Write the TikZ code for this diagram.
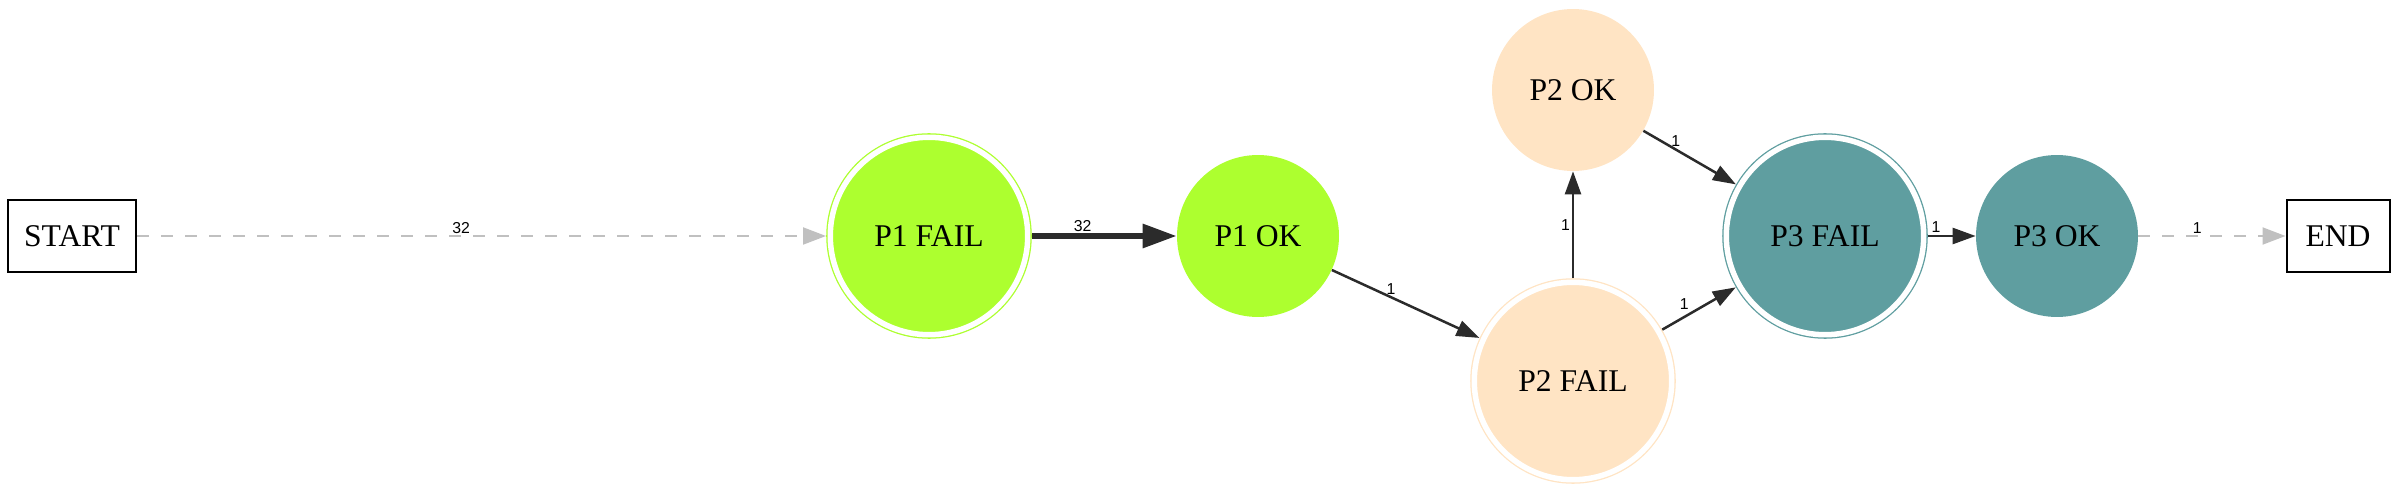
\documentclass[tikz,border=0pt]{standalone}
\usepackage{fontspec}
\setmainfont{Liberation Serif}
\newfontfamily\edgefont{Liberation Sans}
\usepackage{tikz}
\usetikzlibrary{arrows.meta}
\usetikzlibrary{calc}
\usetikzlibrary{positioning}

\definecolor{pgreen}{HTML}{ADFF2F}
\definecolor{pbisque}{HTML}{FFE4C4}
\definecolor{pcadet}{HTML}{5F9EA0}
\definecolor{edgedark}{HTML}{2B2B2B}
\definecolor{edgegray}{HTML}{C0C0C0}

\begin{document}
\begin{tikzpicture}[x=0.02cm, y=-0.02cm,
    statefont/.style={font=\fontsize{18}{22}\selectfont},
    okstate/.style={circle, fill=#1, minimum size=3.24cm, inner sep=0pt, statefont},
    failstate/.style={circle, fill=#1, draw=#1, line width=0.026cm, double=white,
        double distance=0.11cm, minimum size=3.95cm, inner sep=0pt, outer sep=0.085cm, statefont},
    endbox/.style={draw, line width=0.04cm, minimum height=1.46cm, inner sep=0pt, statefont},
    lbl/.style={font=\edgefont\fontsize{9}{10}\selectfont, inner sep=1pt},
    darkedge/.style={draw=edgedark, line width=0.05cm, -{Triangle[length=0.46cm, width=0.32cm]}},
    grayedge/.style={draw=edgegray, line width=0.04cm, dash pattern=on 0.24cm off 0.24cm,
        -{Triangle[length=0.46cm, width=0.34cm]}}]
            \useasboundingbox (0,0) rectangle (2400,493);
            \draw (72,236) node[endbox, minimum width=2.58cm]      (start) {START};
            \draw (929,236) node[failstate=pgreen]                 (p1fail) {P1 FAIL};
            \draw (1258,236) node[okstate=pgreen]                  (p1ok) {P1 OK};
            \draw (1573,90) node[okstate=pbisque]                  (p2ok) {P2 OK};
            \draw (1573,381) node[failstate=pbisque]               (p2fail) {P2 FAIL};
            \draw (1825,236) node[failstate=pcadet]                (p3fail) {P3 FAIL};
            \draw (2057,236) node[okstate=pcadet]                  (p3ok) {P3 OK};
            \draw (2338,236) node[endbox, minimum width=2.06cm]    (end) {END};
            \draw[grayedge] (start) -- node[lbl, above, pos=0.47] {32} (p1fail);
            \draw[darkedge, line width=0.12cm, -{Triangle[length=0.68cm, width=0.46cm]}]
                (p1fail) -- node[lbl, above, pos=0.35] {32} (p1ok);
            \draw[darkedge] (p1ok) -- node[lbl, above, pos=0.4] {1} (p2fail);
            \draw[darkedge] (p2fail) -- node[lbl, left, pos=0.5] {1} (p2ok);
            \draw[darkedge] (p2ok) -- node[lbl, above, pos=0.35] {1} (p3fail);
            \draw[darkedge] (p2fail) -- node[lbl, above left, pos=0.4] {1} (p3fail);
            \draw[darkedge] (p3fail) -- node[lbl, above, pos=0.17] {1} (p3ok);
            \draw[grayedge] (p3ok) -- node[lbl, above, pos=0.4] {1} (end);
\end{tikzpicture}
\end{document}
